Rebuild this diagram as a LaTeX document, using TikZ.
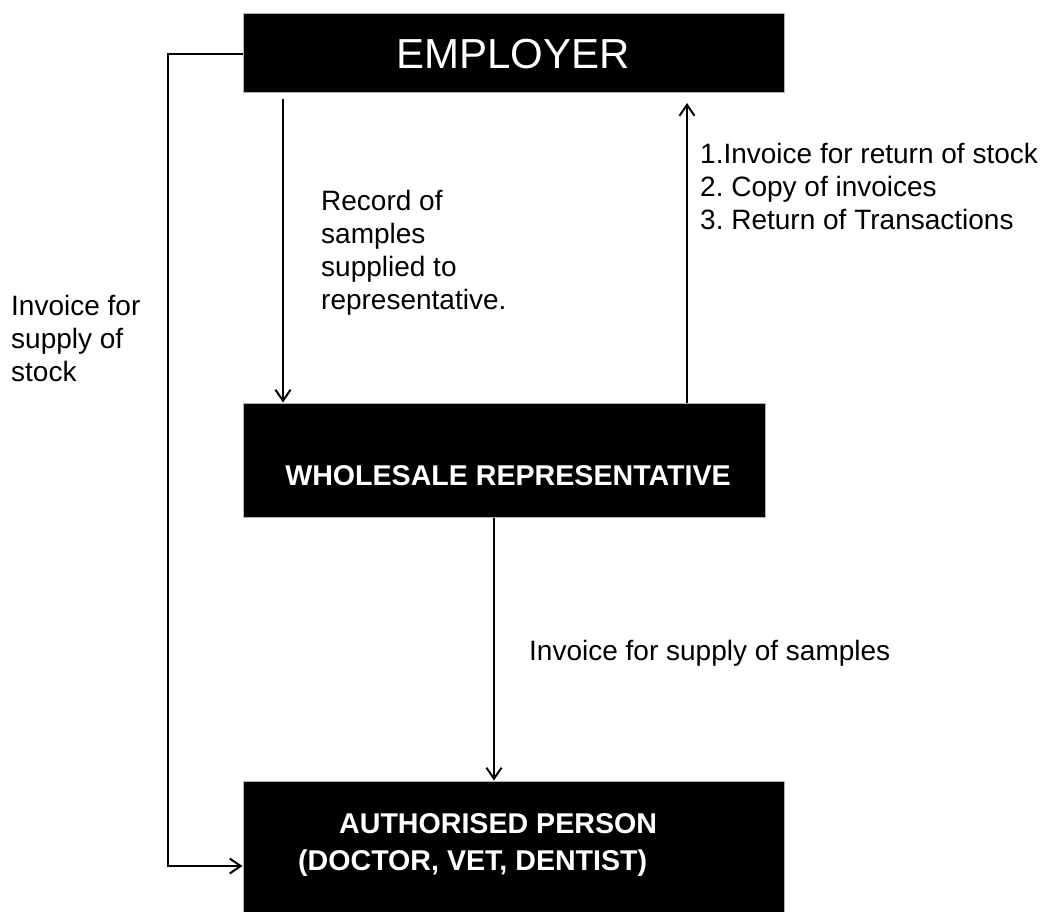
\documentclass[tikz,border=0pt]{standalone}
\usepackage{fontspec}
\setmainfont{Liberation Sans}
\usetikzlibrary{arrows.meta}
\frenchspacing
\begin{document}
\begin{tikzpicture}[x=1pt,y=-1pt,
  blk/.style={fill=black,draw=gray!60,line width=1pt,inner sep=0pt},
  flow/.style={line width=2pt,-{Straight Barb[length=11pt,width=15pt]}},
  lbl/.style={anchor=base west,inner sep=0pt,font=\fontsize{28}{33}\selectfont},
  wtxt/.style={text=white,inner sep=0pt}]
\useasboundingbox (0,0) rectangle (1048,911);
\begin{scope}
\clip (0,0) rectangle (1048,911);
% boxes
\node[blk,minimum width=541pt,minimum height=79pt] (emp) at (513.5,52.5) {};
\node[blk,minimum width=522pt,minimum height=114pt] (wr) at (504,460) {};
\node[blk,minimum width=541pt,minimum height=134pt] (ap) at (513.5,848) {};
\end{scope}
% box texts
\node[wtxt,anchor=base,font=\fontsize{42}{50}\selectfont] (empt) at (513,68) {EMPLOYER};
\node[wtxt,anchor=base,font=\bfseries\fontsize{28.6}{37}\selectfont] (wrt) at (508,485) {WHOLESALE REPRESENTATIVE};
\node[wtxt,anchor=base west,font=\bfseries\fontsize{28.6}{37}\selectfont] (apt) at (298,833)
  {\begin{tabular}[t]{@{}l@{}}\hspace*{41pt}AUTHORISED PERSON\\(DOCTOR, VET, DENTIST)\end{tabular}};
% coordinates
\coordinate (y54) at (0,54);
\coordinate (lc) at (168,54);
\coordinate (y866) at (0,866);
\coordinate (a1) at (283,99);
\coordinate (a2) at (687,103);
\coordinate (x494) at (494,0);
% connectors
\draw[flow] (emp.west |- y54) -- (lc) |- (ap.west |- y866);
\draw[flow] (a1) -- (wr.north -| a1);
\draw[flow] (wr.north -| a2) -- (a2);
\draw[flow] (wr.south -| x494) -- (ap.north -| x494);
% labels
\node[lbl] (l1) at (321,210) {\begin{tabular}[t]{@{}l@{}}Record of\\samples\\supplied to\\representative.\end{tabular}};
\node[lbl] (l2) at (700,163) {\begin{tabular}[t]{@{}l@{}}1.Invoice for return of stock\\2. Copy of invoices\\3. Return of Transactions\end{tabular}};
\node[lbl] (l3) at (11,315) {\begin{tabular}[t]{@{}l@{}}Invoice for\\supply of\\stock\end{tabular}};
\node[lbl] (l4) at (529,660) {Invoice for supply of samples};
\end{tikzpicture}
\end{document}
